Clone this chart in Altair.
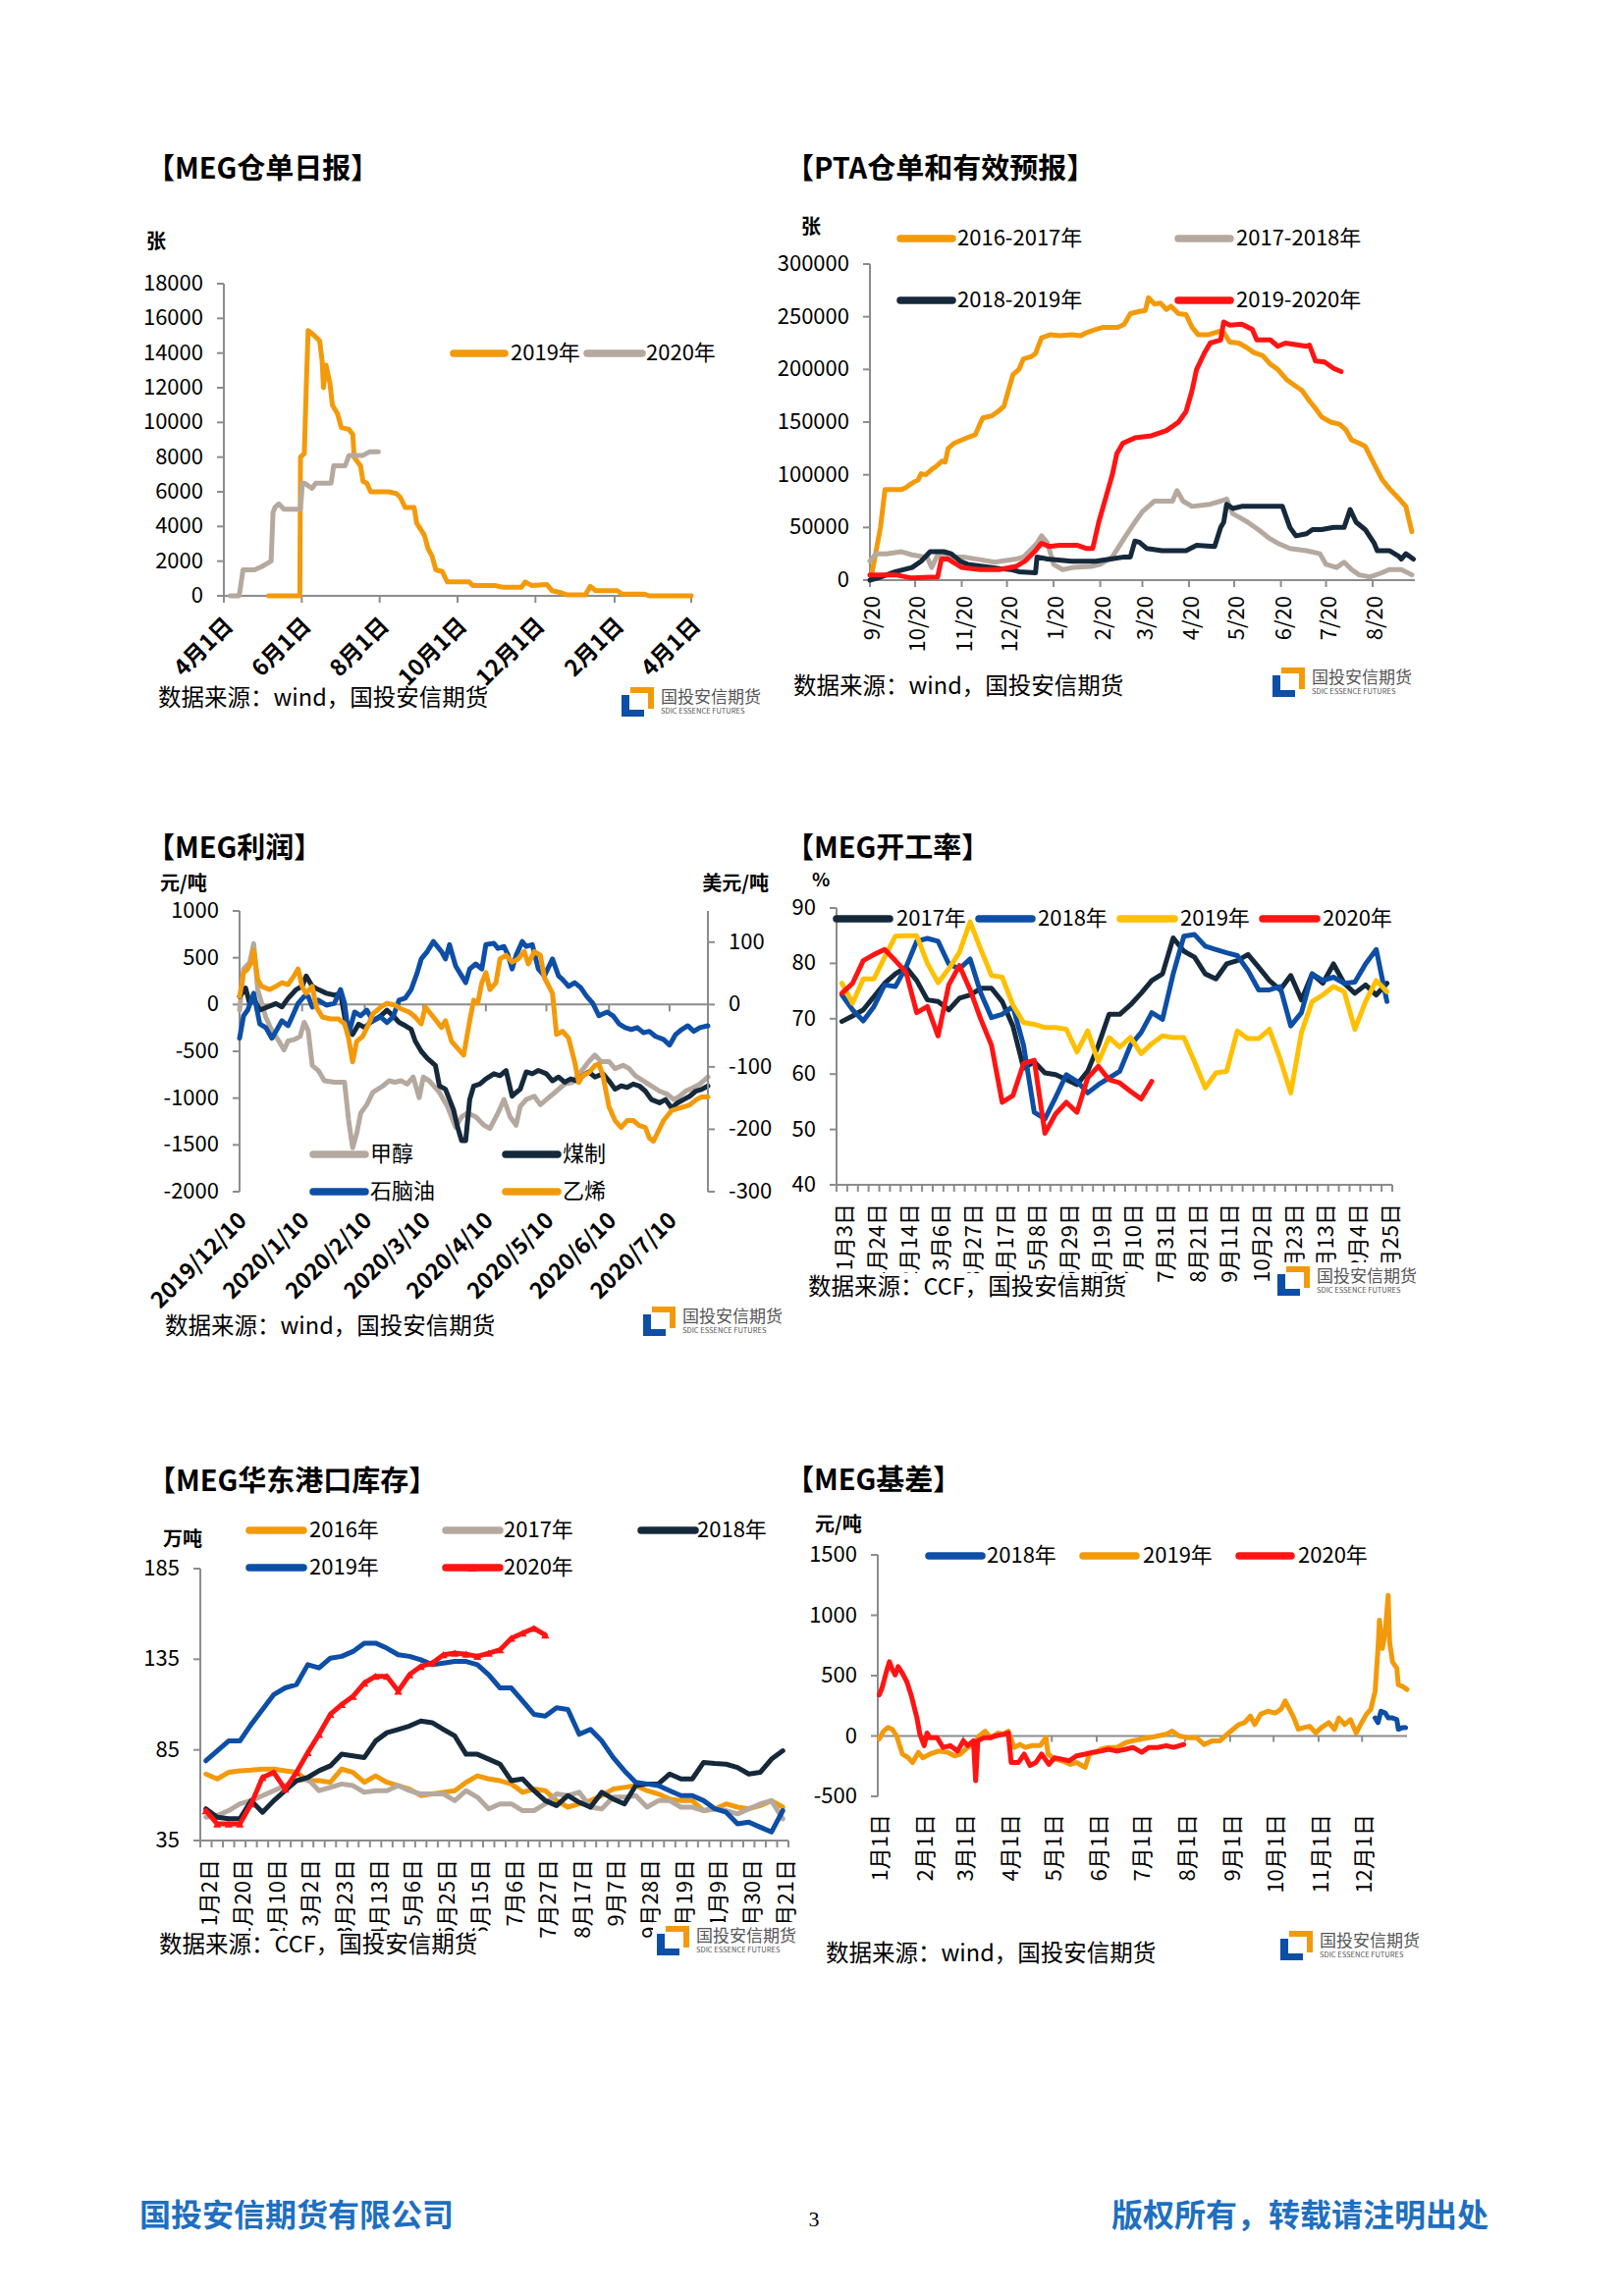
import altair as alt
import pandas as pd

# ======================= DATA =======================
# 【MEG仓单日报】 x = days since 4月1日
wr_2019_day = [35, 59.5, 60, 63, 64.5, 66, 71, 75, 77, 78, 80, 83, 85, 89, 92, 98, 101, 102, 107, 109,
               112, 115, 129, 135, 138, 142, 149, 151, 157, 160, 163, 166, 171, 175, 192, 195, 212, 218, 233, 236,
               241, 253, 257, 263, 269, 283, 287, 291, 308, 312, 329, 333, 366]
wr_2019 = [0, 0, 8000, 8200, 12000, 15300, 15000, 14700, 13500, 12000, 13300, 12300, 11000, 10500, 9700, 9600,
           9300, 8000, 7500, 6600, 6500, 6000, 6000, 5900, 5700, 5100, 5100, 4200, 3500, 2700, 2300, 1500, 1400,
           800, 800, 600, 600, 500, 500, 800, 600, 650, 300, 200, 50, 50, 550, 300, 300, 100, 100, 0, 0]
wr_2020_day = [5, 12, 15, 24, 30, 37, 38.5, 40, 43, 47, 60, 61.5, 63, 69, 72, 84, 86, 95, 98, 109, 114, 121]
wr_2020 = [0, 0, 1500, 1500, 1700, 2000, 4800, 5100, 5300, 5000, 5000, 6500, 6500, 6200, 6500, 6500, 7500,
           7500, 8100, 8100, 8300, 8300]
wr_yticks = [0, 2000, 4000, 6000, 8000, 10000, 12000, 14000, 16000, 18000]
wr_ticks = [0, 61, 122, 183, 244, 306, 366]
wr_labels = ["4月1日", "6月1日", "8月1日", "10月1日", "12月1日", "2月1日", "4月1日"]

# 【PTA仓单和有效预报】 x = days since 9/20
pta_1617_day = [1, 7, 10, 21, 24, 29, 32, 34, 37, 41, 44, 48, 50, 52, 56, 61, 66, 70, 73, 75, 81, 85, 89, 92,
                95, 99, 102, 107, 110, 114, 120, 126, 134, 140, 144, 150, 155, 165, 169, 173, 179, 183, 185, 189,
                193, 197, 200, 205, 210, 214, 218, 225, 232, 235, 239, 245, 250, 255, 261, 266, 271, 277, 282,
                287, 292, 296, 300, 306, 312, 316, 320, 325, 329, 335, 340, 345, 351, 356, 360]
pta_1617 = [4000, 50000, 86000, 86000, 88000, 93000, 95000, 101000, 100000, 105000, 108000, 113000, 112000,
            125000, 130000, 133000, 136000, 138000, 148000, 154000, 156000, 160000, 165000, 180000, 195000,
            200000, 210000, 212000, 215000, 230000, 233000, 232000, 233000, 232000, 235000, 238000, 240000,
            240000, 243000, 253000, 255000, 256000, 268000, 262000, 263000, 257000, 260000, 253000, 252000,
            240000, 233000, 233000, 236000, 235000, 226000, 225000, 221000, 216000, 213000, 205000, 200000,
            190000, 185000, 180000, 170000, 163000, 155000, 150000, 148000, 143000, 133000, 130000, 127000,
            110000, 96000, 87000, 78000, 70000, 46000]
pta_1718_day = [0, 4, 11, 21, 28, 36, 38, 41, 45, 56, 62, 75, 83, 97, 102, 111, 114, 118, 122, 128, 135, 147,
                153, 161, 169, 176, 181, 185, 189, 201, 204, 208, 214, 226, 233, 237, 241, 245, 251, 258, 265,
                271, 279, 290, 299, 303, 310, 315, 320, 325, 332, 340, 345, 353, 360]
pta_1718 = [18000, 25000, 25000, 27000, 24000, 22000, 22000, 12000, 24000, 22000, 22000, 19000, 17000, 20000,
            22000, 35000, 42000, 35000, 15000, 10000, 12000, 13000, 15000, 22000, 40000, 55000, 65000, 70000,
            75000, 75000, 85000, 75000, 70000, 72000, 75000, 77000, 63000, 60000, 55000, 48000, 40000, 35000,
            30000, 28000, 25000, 15000, 12000, 17000, 10000, 5000, 3000, 7000, 10000, 10000, 5000]
pta_1819_day = [0, 7, 17, 28, 34, 40, 49, 54, 60, 65, 75, 86, 94, 99, 110, 111, 118, 134, 150, 160, 169, 173,
                176, 179, 184, 194, 210, 217, 229, 233, 235, 237, 241, 247, 271, 274, 279, 283, 290, 294, 300,
                308, 315, 319, 323, 329, 335, 337, 345, 351, 353, 356, 361]
pta_1819 = [0, 3000, 8000, 12000, 18000, 27000, 27000, 25000, 18000, 15000, 13000, 11000, 10000, 8000, 7000,
            22000, 20000, 18000, 18000, 20000, 22000, 22000, 37000, 36000, 30000, 28000, 28000, 33000, 32000,
            50000, 55000, 72000, 68000, 70000, 70000, 70000, 50000, 42000, 44000, 48000, 48000, 50000, 50000,
            67000, 55000, 48000, 35000, 28000, 28000, 23000, 20000, 25000, 20000]
pta_1920_day = [0, 17, 28, 44, 45, 47.5, 52, 61, 73, 86, 97, 103, 110, 114, 119, 126, 138, 144, 148, 152, 157,
                161, 164, 168, 176, 187, 197, 205, 210, 214, 217, 222, 226, 233, 235, 239, 247, 254, 257, 266,
                271, 276, 290, 292, 296, 302, 308, 313]
pta_1920 = [5000, 5000, 2000, 3000, 3000, 20000, 20000, 12000, 10000, 10000, 13000, 18000, 28000, 35000, 32000,
            33000, 33000, 30000, 30000, 55000, 80000, 100000, 120000, 130000, 135000, 137000, 142000, 150000,
            160000, 180000, 200000, 215000, 225000, 228000, 245000, 242000, 243000, 238000, 228000, 228000,
            222000, 225000, 222000, 223000, 208000, 207000, 201000, 198000]
pta_yticks = [0, 50000, 100000, 150000, 200000, 250000, 300000]
pta_ticks = [0, 30, 61, 91, 122, 153, 181, 212, 242, 273, 303, 334]
pta_labels = ["9/20", "10/20", "11/20", "12/20", "1/20", "2/20", "3/20", "4/20", "5/20", "6/20", "7/20", "8/20"]

# 【MEG利润】 x = days since 2019/12/10 ; 甲醇/煤制 元/吨 (left), 石脑油/乙烯 美元/吨 (right)
meoh_day = [0, 2, 5, 7, 9, 11, 13, 16, 19, 22, 24, 27, 30, 32, 34, 36, 39, 42, 47, 52, 54, 56, 58, 60, 63, 66,
            71, 74, 77, 80, 83, 86, 89, 91, 94, 99, 103, 107, 110, 113, 117, 121, 124, 128, 131, 134, 137, 139,
            142, 146, 149, 152, 157, 161, 165, 169, 173, 176, 179, 183, 186, 190, 193, 196, 200, 204, 208, 212,
            215, 218, 221, 225, 228, 232]
meoh = [-60, 380, 450, 650, 160, 10, -135, -280, -375, -485, -390, -375, -340, -190, -280, -650, -705, -815,
        -830, -830, -1235, -1530, -1380, -1160, -1070, -940, -870, -815, -830, -815, -850, -775, -995, -775,
        -815, -940, -1090, -1310, -1200, -1160, -1200, -1290, -1325, -1160, -1015, -1200, -1290, -1090, -1015,
        -980, -1070, -1015, -925, -850, -830, -720, -610, -540, -610, -610, -685, -650, -685, -760, -815, -870,
        -925, -960, -1015, -980, -925, -885, -850, -775]
coal_day = [0, 3, 5, 7, 10, 14, 18, 21, 24, 28, 31, 33, 36, 39, 43, 47, 50, 53, 56, 59, 62, 65, 70, 73, 76, 79,
            82, 85, 87, 90, 93, 97, 99, 102, 104, 106, 108, 110, 112, 114, 116, 119, 122, 126, 129, 132, 135, 137,
            139, 142, 145, 148, 152, 155, 158, 161, 164, 167, 170, 173, 176, 180, 183, 186, 189, 192, 195, 198,
            201, 204, 208, 211, 214, 217, 220, 223, 226, 229, 232]
coal = [85, 175, 10, 65, -60, -25, 10, -25, 65, 160, 195, 305, 195, 160, 120, 100, 120, -245, -320, -210, -245,
        -190, -120, -60, -120, -190, -225, -265, -390, -500, -575, -650, -870, -905, -1015, -1125, -1310, -1455,
        -1455, -1015, -870, -850, -795, -740, -760, -705, -980, -940, -905, -720, -740, -705, -740, -815, -775,
        -830, -795, -815, -760, -720, -775, -740, -815, -905, -870, -885, -850, -870, -925, -1015, -1050, -1015,
        -1105, -1050, -1015, -980, -925, -905, -870]
naph_day = [0, 2, 4, 7, 10, 13, 16, 18, 21, 24, 26, 29, 32, 34, 36, 39, 43, 47, 50, 52, 54, 57, 60, 63, 66, 70,
            73, 76, 79, 82, 85, 88, 90, 93, 96, 100, 102, 104, 107, 110, 112, 114, 117, 120, 122, 126, 128, 131,
            133, 135, 137, 140, 142, 145, 148, 151, 155, 158, 160, 163, 166, 169, 172, 175, 178, 182, 185, 188,
            191, 194, 197, 200, 203, 206, 210, 213, 216, 219, 222, 225, 228, 232]
naph = [-54, -18, -9, 18, -31, -37, -54, -43, -26, -34, -20, 2, 13, 13, -4, 7, -1, 2, 24, 2, -48, -12, -18, -9,
        -26, -20, -29, -20, 7, 10, 24, 51, 73, 85, 101, 85, 73, 96, 62, 46, 35, 57, 65, 57, 96, 98, 90, 93, 79,
        57, 79, 101, 93, 96, 57, 46, 73, 46, 40, 29, 35, 27, 13, 2, -18, -12, -18, -31, -37, -40, -37, -45, -43,
        -51, -56, -65, -48, -40, -34, -43, -37, -34]
eth_day = [0, 2, 4, 6, 7, 9, 11, 15, 18, 21, 24, 27, 29, 31, 33, 36, 38, 41, 45, 49, 52, 54, 56, 58, 61, 64, 66,
           70, 73, 77, 80, 84, 87, 90, 92, 94, 96, 100, 102, 105, 108, 111, 114, 116, 118, 120, 122, 124, 127,
           129, 132, 135, 138, 141, 143, 146, 149, 151, 155, 157, 160, 163, 166, 168, 170, 173, 176, 178, 180,
           183, 186, 189, 192, 195, 198, 201, 203, 205, 207, 210, 212, 214, 217, 220, 223, 226, 229, 232]
eth = [13, 51, 57, 68, 87, 40, 29, 24, 29, 35, 32, 46, 57, 29, 18, 29, -4, -20, -23, -23, -31, -54, -92, -59,
       -51, -31, -15, -4, 2, -1, -7, -12, -20, -31, -4, -12, -20, -37, -26, -59, -70, -81, -26, 7, 2, 35, 51, 24,
       35, 73, 79, 68, 73, 85, 65, 85, 79, 43, 18, -48, -43, -54, -92, -125, -114, -109, -98, -95, -114, -164,
       -186, -197, -186, -186, -194, -197, -214, -219, -206, -186, -178, -170, -167, -164, -161, -153, -148, -148]
prof_yticks_l = [-2000, -1500, -1000, -500, 0, 500, 1000]
prof_yticks_r = [-300, -200, -100, 0, 100]
prof_ticks = [0, 31, 62, 91, 122, 152, 183, 213]
prof_labels = ["2019/12/10", "2020/1/10", "2020/2/10", "2020/3/10", "2020/4/10", "2020/5/10", "2020/6/10",
               "2020/7/10"]

# 【MEG开工率】 weekly, %
op_2017 = [69.5, 70.5, 71.6, 74, 76.4, 78.1, 79.3, 76.9, 73.4, 73.1, 71.6, 73.7, 74.3, 75.5, 75.5, 73.1, 68.7,
           61.1, 62.2, 60.2, 59.9, 59, 58.1, 60.5, 65.2, 70.8, 70.8, 72.5, 74.6, 76.9, 78.1, 84.6, 82.2, 81.1,
           78.1, 77.2, 79.9, 80.5, 81.6, 79.3, 76.9, 75.2, 77.8, 73.4, 78.1, 76.4, 79.9, 76.4, 74.6, 76.1, 74.3,
           76.4]
op_2018 = [74.3, 71.6, 69.6, 72.2, 76.1, 75.8, 79.3, 84, 84.5, 84, 79.9, 79, 80.8, 74.6, 70.2, 70.8, 72.2, 65.2,
           53.1, 51.9, 55.8, 59.9, 58.7, 56.6, 58.1, 59.3, 60.5, 65.2, 67.5, 71.1, 69.9, 78.1, 84.9, 85.2, 83.1,
           82.5, 81.9, 81.4, 78.7, 75.2, 75.2, 75.8, 68.7, 71.1, 78.1, 76.9, 77.5, 76.4, 76.6, 79.9, 82.5, 73.1]
op_2019 = [76.4, 72.8, 77.2, 77.2, 81.1, 84.9, 85, 85, 80, 76.5, 79, 82, 87.5, 82.5, 77.8, 77.5, 72.5, 69.3, 69,
           68.4, 68.4, 68.1, 64, 67.8, 62.2, 66.6, 64.9, 66.6, 63.7, 65.5, 66.9, 66.6, 66.6, 62.2, 57.5, 60.2,
           60.5, 67.8, 66.4, 66.4, 68.1, 62.8, 56.6, 67.5, 73.1, 74.3, 75.8, 74.9, 68.1, 73.1, 76.9, 74.9]
op_2020 = [74.6, 76.4, 80.5, 81.6, 82.5, 80.5, 78.4, 71.1, 72.2, 66.9, 76.1, 79.6, 75.2, 69.9, 65.2, 54.9, 56.1,
           61.9, 62.5, 49.3, 52.8, 54.9, 53.1, 59.3, 61.4, 59, 58.4, 56.9, 55.5, 58.7]
op_yticks = [40, 50, 60, 70, 80, 90]
op_labels = ["1月3日", "1月24日", "2月14日", "3月6日", "3月27日", "4月17日", "5月8日", "5月29日", "6月19日",
             "7月10日", "7月31日", "8月21日", "9月11日", "10月2日", "10月23日", "11月13日", "12月4日", "12月25日"]

# 【MEG华东港口库存】 weekly, 万吨
inv_2016 = [71.7, 69, 72.6, 73.5, 73.8, 74.4, 74.4, 73.5, 72.6, 68, 68, 67.1, 74.4, 72.6, 67.1, 70.7, 67.1, 65.3,
            63.4, 59.8, 60.7, 61.6, 62.5, 67.1, 70.7, 69, 68, 66.2, 61.6, 63.4, 62.5, 57, 53.4, 55.2, 57, 59.8,
            63.4, 64.3, 65.3, 62.5, 60.7, 57.9, 57, 57, 51.5, 52.5, 55.2, 53.4, 52.5, 54.3, 57, 53.4]
inv_2017 = [47.9, 48.8, 51.5, 55.2, 57, 59.8, 62.5, 65.3, 68, 69, 62.5, 64.3, 66.2, 65.3, 61.6, 62.5, 62.5, 65.3,
            62.5, 60.7, 60.7, 60.7, 57, 62.5, 58.9, 52.5, 55.2, 55.2, 51.5, 51.5, 55.2, 60.7, 59.8, 61.6, 53.4,
            52.5, 58.9, 58.9, 59.8, 53.4, 57, 57, 53.4, 53.4, 51.5, 52.5, 51.5, 49.7, 52.5, 55.2, 57, 47]
inv_2018 = [52.5, 47.9, 47, 47, 57, 50.6, 57, 62.5, 68, 69.8, 73.5, 76.2, 82.6, 81.7, 80.8, 89.9, 94.5, 96.3,
            98.2, 100.9, 100, 96.3, 92.7, 82.6, 82.6, 79.9, 77.1, 68, 69, 62.5, 57, 54.3, 59.8, 56.1, 53.4, 61.6,
            57.9, 55.2, 65.3, 66.2, 66.2, 71.7, 69, 69, 78.1, 77.5, 77.1, 75.3, 71.7, 72.6, 79.9, 84.5]
inv_2019 = [79, 84.5, 89.9, 89.9, 99.1, 107.3, 115.5, 119.2, 121, 132, 130.2, 135.6, 136.6, 139.3, 143.9, 143.9,
            141.1, 137.5, 136.6, 134.7, 132, 132.9, 133.8, 133.8, 132, 126.5, 119.2, 119.2, 111.9, 104.6, 103.6,
            108.2, 107.3, 93.6, 96.3, 89.9, 80.8, 73.5, 67.1, 66.2, 65.3, 62.5, 59.8, 59.8, 57, 52.5, 50.6, 44.2,
            45.1, 42.4, 39.7, 51.5]
inv_2020 = [51.5, 44.2, 44.2, 44.2, 55.2, 69.8, 72.6, 63.4, 72.6, 83.5, 93.6, 104.6, 110, 114.6, 121.9, 125.6,
            125.6, 117.4, 126.5, 131.1, 132.9, 137.5, 138.4, 137.8, 136.6, 138.4, 140.2, 146.6, 149.4, 152.1, 148.4]
inv_yticks = [35, 85, 135, 185]
inv_labels = ["1月2日", "1月20日", "2月10日", "3月2日", "3月23日", "4月13日", "5月6日", "5月25日", "6月15日",
              "7月6日", "7月27日", "8月17日", "9月7日", "9月28日", "10月19日", "11月9日", "11月30日", "12月21日"]

# 【MEG基差】 x = days since 1月1日, 元/吨
bs_2018_day = [343, 345, 347, 350, 352, 355, 358, 359, 362, 364]
bs_2018 = [150, 110, 205, 190, 150, 150, 135, 55, 70, 70]
bs_2019_day = [1, 4, 7, 10, 13, 17, 21, 24, 28, 31, 36, 42, 48, 53, 57, 62, 66, 70, 74, 78, 83, 87, 90, 94, 98,
               102, 106, 112, 116, 117.5, 122, 127, 133, 137, 143, 146, 150, 154, 159, 165, 171, 176, 182, 187,
               193, 199, 203, 208, 214, 220, 225, 231, 236, 241, 245, 249, 253, 257, 260, 264, 269, 274, 278,
               281, 284, 287, 290, 294, 298, 302, 306, 311, 315, 318, 322, 326, 330, 333, 337, 340, 343, 345,
               346, 348, 350, 352, 353, 355, 358, 359, 362, 365]
bs_2019 = [-25, 40, 70, 55, 0, -150, -180, -220, -135, -180, -150, -125, -135, -165, -150, -95, -70, 0, 40, -15,
           25, 15, 40, -95, -70, -95, -80, -80, -15, -150, -190, -205, -235, -220, -260, -150, -135, -110, -95,
           -95, -55, -40, -25, -15, 0, 15, 40, 0, -15, -15, -70, -40, -40, 15, 55, 95, 110, 165, 95, 180, 205,
           190, 220, 290, 220, 150, 55, 70, 80, 25, 70, 110, 55, 150, 95, 135, 25, 95, 180, 220, 370, 725, 960,
           725, 865, 1165, 780, 615, 560, 425, 410, 385]
bs_2020_day = [1, 3, 6, 8, 10, 12, 14, 17, 20, 23, 27, 29, 32, 34, 36, 41, 45, 50, 55, 59, 62, 66, 67.5, 69,
               73, 77, 81, 87, 90, 92, 97, 101, 105, 109, 113, 118, 122, 126, 132, 137, 143, 148, 154, 159, 165,
               171, 176, 182, 187, 193, 199, 204, 211]
bs_2020 = [340, 400, 535, 615, 550, 505, 575, 520, 450, 340, 150, 15, -80, 25, -15, -15, -95, -80, -125, -40,
           -80, -40, -370, -40, -15, -15, 0, 15, 25, -220, -220, -150, -245, -220, -150, -235, -180, -190, -205,
           -165, -150, -135, -125, -110, -125, -110, -95, -135, -95, -95, -80, -95, -70]
bs_yticks = [-500, 0, 500, 1000, 1500]
bs_ticks = [0, 31, 59, 90, 120, 151, 181, 212, 243, 273, 304, 334]
bs_labels = ["1月1日", "2月1日", "3月1日", "4月1日", "5月1日", "6月1日", "7月1日", "8月1日", "9月1日",
             "10月1日", "11月1日", "12月1日"]

# ======================= STYLE / LAYOUT =======================
W, H = 1638, 2323
M = 8
FONT = "Noto Sans CJK SC"
ORANGE = "#F39A0B"
GRAY = "#B5A99F"
NAVY = "#15293B"
RED = "#FF1414"
BLUE = "#0D4EA6"
YELLOW = "#FFC000"
AX = "#8C8C8C"
FOOT = "#1E6FC0"
LOGO_TXT = "#555555"
TICK_FS = 22
LW = 5


def px(v):
    return v - M


def sc(domain, r0, r1):
    return alt.Scale(domain=domain, range=[px(r0), px(r1)], nice=False, zero=False)


def X(field, s):
    return alt.X(field, scale=s, axis=None)


def Y(field, s):
    return alt.Y(field, scale=s, axis=None)


def vaxis(xsc, ysc, x_at, ydom, values, side="left", size=TICK_FS, tick=7, gap=21):
    """y axis (domain line, ticks, labels) drawn through the chart's own scales"""
    sgn = -1 if side == "left" else 1
    dom = pd.DataFrame({"x": [x_at], "a": [ydom[0]], "b": [ydom[1]]})
    df = pd.DataFrame({"x": [x_at] * len(values), "v": values, "lab": [str(v) for v in values]})
    return [
        alt.Chart(dom).mark_rule(color=AX, strokeWidth=2).encode(x=X("x:Q", xsc), y=Y("a:Q", ysc), y2="b:Q"),
        alt.Chart(df).mark_rule(color=AX, strokeWidth=2, x2Offset=sgn * tick).encode(
            x=X("x:Q", xsc), x2="x:Q", y=Y("v:Q", ysc)),
        alt.Chart(df).mark_text(align="right" if side == "left" else "left", baseline="middle", font=FONT,
                                fontSize=size, color="#000000", xOffset=sgn * gap).encode(
            x=X("x:Q", xsc), y=Y("v:Q", ysc), text="lab:N"),
    ]


def haxis(xsc, ysc, y_at, xdom, values, labels, angle, size=TICK_FS, bold=False, tick=7, yoff=16, xoff=4,
          domain=True, tick_vals=None, baseline="middle"):
    """x axis drawn through the chart's own scales"""
    out = []
    if domain:
        dom = pd.DataFrame({"a": [xdom[0]], "b": [xdom[1]], "y": [y_at]})
        out.append(alt.Chart(dom).mark_rule(color=AX, strokeWidth=2).encode(
            x=X("a:Q", xsc), x2="b:Q", y=Y("y:Q", ysc)))
    if tick_vals is not None:
        tdf = pd.DataFrame({"x": tick_vals, "y": [y_at] * len(tick_vals)})
        out.append(alt.Chart(tdf).mark_rule(color=AX, strokeWidth=2, y2Offset=tick).encode(
            x=X("x:Q", xsc), y=Y("y:Q", ysc), y2="y:Q"))
    ldf = pd.DataFrame({"x": values, "y": [y_at] * len(values), "lab": labels})
    out.append(alt.Chart(ldf).mark_text(angle=angle, align="right", baseline=baseline, font=FONT, fontSize=size,
                                        fontWeight="bold" if bold else "normal", color="#000000",
                                        xOffset=xoff, yOffset=yoff).encode(
        x=X("x:Q", xsc), y=Y("y:Q", ysc), text="lab:N"))
    return out


def zero_line(x0, x1, ticks, tick_len, xsc, ysc):
    r = alt.Chart(pd.DataFrame({"a": [x0], "b": [x1], "y": [0]})).mark_rule(color=AX, strokeWidth=2).encode(
        x=X("a:Q", xsc), x2="b:Q", y=Y("y:Q", ysc))
    t = alt.Chart(pd.DataFrame({"x": ticks, "y": [0] * len(ticks)})).mark_rule(
        color=AX, strokeWidth=2, y2Offset=tick_len).encode(x=X("x:Q", xsc), y=Y("y:Q", ysc), y2="y:Q")
    return [r, t]


def series(xs, ys, color, xsc, ysc, w=LW):
    df = pd.DataFrame({"x": xs, "y": ys, "o": list(range(len(xs)))})
    return alt.Chart(df).mark_line(color=color, strokeWidth=w, strokeJoin="round", strokeCap="round").encode(
        x=X("x:Q", xsc), y=Y("y:Q", ysc), order="o:Q")


# ---------- chart 1: MEG仓单日报 ----------
c1x = sc([0, 366], 228, 704)
c1y = sc([0, 18000], 607, 289)
c1 = alt.layer(
    *vaxis(c1x, c1y, 0, [0, 18000], wr_yticks),
    *haxis(c1x, c1y, 0, [0, 366], wr_ticks, wr_labels, 315, size=23, bold=True, tick_vals=wr_ticks,
           yoff=19, xoff=-2, baseline="top"),
    series(wr_2019_day, wr_2019, ORANGE, c1x, c1y),
    series(wr_2020_day, wr_2020, GRAY, c1x, c1y),
)

# ---------- chart 2: PTA仓单和有效预报 ----------
c2x = sc([0, 362], 886, 1441)
c2y = sc([0, 300000], 591, 269)
c2 = alt.layer(
    *vaxis(c2x, c2y, 0, [0, 300000], pta_yticks),
    *haxis(c2x, c2y, 0, [0, 362], pta_ticks, pta_labels, 270, tick_vals=pta_ticks, yoff=16, xoff=3),
    series(pta_1617_day, pta_1617, ORANGE, c2x, c2y),
    series(pta_1718_day, pta_1718, GRAY, c2x, c2y),
    series(pta_1819_day, pta_1819, NAVY, c2x, c2y),
    series(pta_1920_day, pta_1920, RED, c2x, c2y),
)

# ---------- chart 3: MEG利润 ----------
c3x = sc([0, 232], 244, 721)
c3yl = sc([-2000, 1000], 1214, 928)
c3yr = sc([-300, 150], 1214, 928)
c3_left = alt.layer(
    *vaxis(c3x, c3yl, 0, [-2000, 1000], prof_yticks_l),
    *zero_line(0, 232, prof_ticks, 7, c3x, c3yl),
    *haxis(c3x, c3yl, -2000, [0, 232], prof_ticks, prof_labels, 315, size=23, bold=True, domain=False,
           yoff=18, xoff=-4, baseline="top"),
    series(meoh_day, meoh, GRAY, c3x, c3yl),
    series(coal_day, coal, NAVY, c3x, c3yl),
)
c3_right = alt.layer(
    *vaxis(c3x, c3yr, 232, [-300, 150], prof_yticks_r, side="right"),
    series(naph_day, naph, BLUE, c3x, c3yr),
    series(eth_day, eth, ORANGE, c3x, c3yr),
)
c3 = alt.layer(c3_left, c3_right).resolve_scale(y="independent")

# ---------- chart 4: MEG开工率 ----------
c4x = sc([-0.5, 51.5], 852, 1418)
c4y = sc([40, 90], 1207, 925)
c4 = alt.layer(
    *vaxis(c4x, c4y, -0.5, [40, 90], op_yticks),
    *haxis(c4x, c4y, 40, [-0.5, 51.5], list(range(0, 52, 3)), op_labels, 270,
           tick_vals=[i - 0.5 for i in range(53)], yoff=19, xoff=4),
    series(list(range(len(op_2017))), op_2017, NAVY, c4x, c4y),
    series(list(range(len(op_2018))), op_2018, BLUE, c4x, c4y),
    series(list(range(len(op_2019))), op_2019, YELLOW, c4x, c4y),
    series(list(range(len(op_2020))), op_2020, RED, c4x, c4y),
)

# ---------- chart 5: MEG华东港口库存 ----------
c5x = sc([-0.5, 51.5], 204, 803)
c5y = sc([35, 185], 1875, 1598)
inv20_df = pd.DataFrame({"x": list(range(len(inv_2020))), "y": inv_2020})
c5 = alt.layer(
    *vaxis(c5x, c5y, -0.5, [35, 185], inv_yticks),
    *haxis(c5x, c5y, 35, [-0.5, 51.5], list(range(0, 52, 3)), inv_labels, 270,
           tick_vals=[i - 0.5 for i in range(53)], yoff=19, xoff=4),
    series(list(range(len(inv_2016))), inv_2016, ORANGE, c5x, c5y),
    series(list(range(len(inv_2017))), inv_2017, GRAY, c5x, c5y),
    series(list(range(len(inv_2018))), inv_2018, NAVY, c5x, c5y),
    series(list(range(len(inv_2019))), inv_2019, BLUE, c5x, c5y),
    series(list(range(len(inv_2020))), inv_2020, RED, c5x, c5y),
    alt.Chart(inv20_df).mark_point(shape="triangle-up", filled=True, size=70, color=RED, opacity=1).encode(
        x=X("x:Q", c5x), y=Y("y:Q", c5y)),
)

# ---------- chart 6: MEG基差 ----------
c6x = sc([0, 365], 894, 1433)
c6y = sc([-500, 1500], 1830, 1584)
c6 = alt.layer(
    *vaxis(c6x, c6y, 0, [-500, 1500], bs_yticks),
    *zero_line(0, 365, bs_ticks, 6, c6x, c6y),
    *haxis(c6x, c6y, -500, [0, 365], bs_ticks, bs_labels, 270, domain=False, yoff=18, xoff=3),
    series(bs_2018_day, bs_2018, BLUE, c6x, c6y),
    series(bs_2019_day, bs_2019, ORANGE, c6x, c6y),
    series(bs_2020_day, bs_2020, RED, c6x, c6y),
)

# ======================= DECORATION =======================
deco = []


def add_text(txt, x, y, size, weight="normal", color="#000000", align="left", font=FONT):
    deco.append(alt.Chart(pd.DataFrame({"t": [txt]})).mark_text(
        align=align, baseline="middle", font=font, fontSize=size, fontWeight=weight, color=color
    ).encode(x=alt.value(px(x)), y=alt.value(px(y)), text="t:N"))


def add_rect(x1, y1, x2, y2, color):
    deco.append(alt.Chart(pd.DataFrame({"k": [0]})).mark_rect(color=color).encode(
        x=alt.value(px(x1)), x2=alt.value(px(x2)), y=alt.value(px(y1)), y2=alt.value(px(y2))))


def add_seg(x1, x2, y, color, w=7.5):
    deco.append(alt.Chart(pd.DataFrame({"k": [0]})).mark_rule(color=color, strokeWidth=w, strokeCap="round").encode(
        x=alt.value(px(x1)), x2=alt.value(px(x2)), y=alt.value(px(y))))


def add_tri(x, y, color):
    deco.append(alt.Chart(pd.DataFrame({"k": [0]})).mark_point(
        shape="triangle-up", filled=True, size=90, color=color, opacity=1).encode(
        x=alt.value(px(x)), y=alt.value(px(y))))


def add_logo(x, y, cover=False):
    if cover:
        add_rect(x - 4, y - 4, x + 142, y + 33, "#ffffff")
    add_rect(x, y + 8, x + 8, y + 30, BLUE)
    add_rect(x, y + 23, x + 23, y + 30, BLUE)
    add_rect(x + 9, y, x + 33, y + 6, ORANGE)
    add_rect(x + 27, y, x + 33, y + 22, ORANGE)
    add_text("国投安信期货", x + 40, y + 11, 17, color=LOGO_TXT)
    add_text("SDIC ESSENCE FUTURES", x + 40, y + 25, 7.5, color=LOGO_TXT)


def add_source(txt, x, y, cover=False):
    if cover:
        add_rect(x - 3, y - 15, x + 345, y + 15, "#ffffff")
    add_text(txt, x, y, 23.5)


# chart 1
add_text("【MEG仓单日报】", 149, 173, 29, "bold")
add_text("张", 149, 247, 20, "bold")
add_seg(462, 514, 360, ORANGE); add_text("2019年", 520, 360, 22)
add_seg(598, 654, 360, GRAY); add_text("2020年", 658, 360, 22)
add_source("数据来源：wind，国投安信期货", 161, 712)
add_logo(633, 700)

# chart 2
add_text("【PTA仓单和有效预报】", 800, 173, 29, "bold")
add_text("张", 816, 232, 20, "bold")
add_seg(917, 970, 243, ORANGE); add_text("2016-2017年", 975, 243, 22)
add_seg(1200, 1253, 243, GRAY); add_text("2017-2018年", 1259, 243, 22)
add_seg(917, 970, 306, NAVY); add_text("2018-2019年", 975, 306, 22)
add_seg(1200, 1253, 306, RED); add_text("2019-2020年", 1259, 306, 22)
add_source("数据来源：wind，国投安信期货", 808, 700)
add_logo(1296, 680)

# chart 3
add_text("【MEG利润】", 149, 865, 29, "bold")
add_text("元/吨", 163, 901, 20, "bold")
add_text("美元/吨", 783, 901, 20, "bold", align="right")
add_seg(319, 372, 1176, GRAY); add_text("甲醇", 377, 1176, 22)
add_seg(515, 568, 1176, NAVY); add_text("煤制", 573, 1176, 22)
add_seg(319, 372, 1214, BLUE); add_text("石脑油", 377, 1214, 22)
add_seg(515, 568, 1214, ORANGE); add_text("乙烯", 573, 1214, 22)
add_source("数据来源：wind，国投安信期货", 168, 1352)
add_logo(655, 1331)

# chart 4
add_text("【MEG开工率】", 800, 865, 29, "bold")
add_text("%", 827, 897, 19, "bold")
add_seg(852, 906, 936, NAVY); add_text("2017年", 913, 936, 22)
add_seg(997, 1051, 936, BLUE); add_text("2018年", 1057, 936, 22)
add_seg(1141, 1196, 936, YELLOW); add_text("2019年", 1202, 936, 22)
add_seg(1286, 1341, 936, RED); add_text("2020年", 1347, 936, 22)
add_source("数据来源：CCF，国投安信期货", 823, 1312, cover=True)
add_logo(1301, 1290, cover=True)

# chart 5
add_text("【MEG华东港口库存】", 150, 1510, 29, "bold")
add_text("万吨", 166, 1569, 20, "bold")
add_seg(254, 309, 1559, ORANGE); add_text("2016年", 315, 1559, 22)
add_seg(454, 509, 1559, GRAY); add_text("2017年", 513, 1559, 22)
add_seg(653, 708, 1559, NAVY); add_text("2018年", 710, 1559, 22)
add_seg(254, 309, 1597, BLUE); add_text("2019年", 315, 1597, 22)
add_seg(454, 509, 1597, RED); add_tri(481, 1597, RED); add_text("2020年", 513, 1597, 22)
add_source("数据来源：CCF，国投安信期货", 162, 1982, cover=True)
add_logo(669, 1962, cover=True)

# chart 6
add_text("【MEG基差】", 800, 1509, 29, "bold")
add_text("元/吨", 830, 1554, 20, "bold")
add_seg(946, 1000, 1585, BLUE); add_text("2018年", 1005, 1585, 22)
add_seg(1103, 1157, 1585, ORANGE); add_text("2019年", 1164, 1585, 22)
add_seg(1262, 1315, 1585, RED); add_text("2020年", 1322, 1585, 22)
add_source("数据来源：wind，国投安信期货", 841, 1991)
add_logo(1304, 1967)

# footer
add_text("国投安信期货有限公司", 142, 2258, 32, "bold", color=FOOT)
add_text("3", 829, 2261, 22, color="#000000", align="center", font="Liberation Serif")
add_text("版权所有，转载请注明出处", 1516, 2258, 32, "bold", color=FOOT, align="right")

chart = alt.layer(c1, c2, c3, c4, c5, c6, *deco).resolve_scale(
    x="independent", y="independent"
).properties(
    width=W, height=H, autosize=alt.AutoSizeParams(type="none"), padding=0, background="#ffffff"
).configure_view(strokeWidth=0)

chart.save("out.html", embed_options={"renderer": "svg", "actions": False})
